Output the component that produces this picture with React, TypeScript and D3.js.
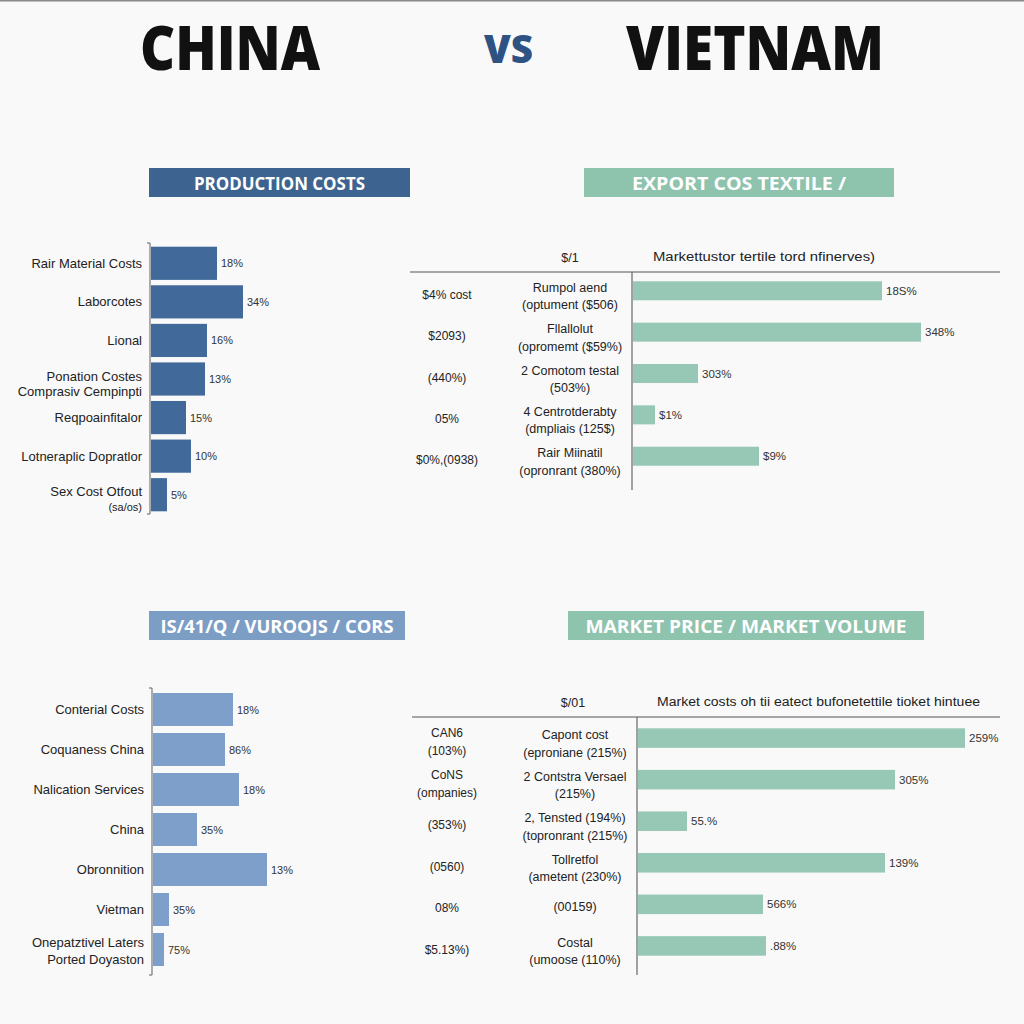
import React from "react";
import * as d3 from "d3";

// ---------- DATA ----------
const titleLeft = "CHINA";
const titleMid = "VS";
const titleRight = "VIETNAM";

const headerTL = "PRODUCTION COSTS";
const headerTR = "EXPORT COS TEXTILE / ";
const headerBL = "IS/41/Q / VUROOJS / CORS";
const headerBR = "MARKET PRICE / MARKET VOLUME";

// top-left panel
const tlCategories = [
  "Rair Material Costs",
  "Laborcotes",
  "Lional",
  "Ponation Costes\nComprasiv Cempinpti",
  "Reqpoainfitalor",
  "Lotneraplic Dopratlor",
  "Sex Cost Otfout\n(sa/os)",
];
const tlValues = [66, 92, 56, 54, 35, 40, 16];
const tlLabels = ["18%", "34%", "16%", "13%", "15%", "10%", "5%"];

// top-right panel
const trColHeadA = "$/1";
const trColHeadB = "Markettustor tertile tord nfinerves)";
const trLeft = ["$4% cost", "$2093)", "(440%)", "05%", "$0%,(0938)"];
const trMid = [
  "Rumpol aend\n(optument ($506)",
  "Fllallolut\n(opromemt ($59%)",
  "2 Comotom testal\n(503%)",
  "4 Centrotderabty\n(dmpliais (125$)",
  "Rair Miinatil\n(opronrant (380%)",
];
const trValues = [249, 288, 65, 22, 126];
const trLabels = ["18S%", "348%", "303%", "$1%", "$9%"];

// bottom-left panel
const blCategories = [
  "Conterial Costs",
  "Coquaness China",
  "Nalication Services",
  "China",
  "Obronnition",
  "Vietman",
  "Onepatztivel Laters\nPorted Doyaston",
];
const blValues = [80, 72, 86, 44, 114, 16, 11];
const blLabels = ["18%", "86%", "18%", "35%", "13%", "35%", "75%"];

// bottom-right panel
const brColHeadA = "$/01";
const brColHeadB = "Market costs oh tii eatect bufonetettile tioket hintuee";
const brLeft = ["CAN6\n(103%)", "CoNS\n(ompanies)", "(353%)", "(0560)", "08%", "$5.13%)"];
const brMid = [
  "Capont cost\n(eproniane (215%)",
  "2 Contstra Versael\n(215%)",
  "2, Tensted (194%)\n(topronrant (215%)",
  "Tollretfol\n(ametent (230%)",
  "(00159)",
  "Costal\n(umoose (110%)",
];
const brValues = [327, 257, 49, 247, 125, 128];
const brLabels = ["259%", "305%", "55.%", "139%", "566%", ".88%"];

// ---------- STYLE ----------
const FONT = "'Liberation Sans', Arial, sans-serif";
const HEAD_FONT = "'Open Sans', 'DejaVu Sans', sans-serif";
const DARK_BLUE = "#41699a";
const DARK_BLUE_H = "#3d6491";
const LIGHT_BLUE = "#7d9fc9";
const LIGHT_BLUE_H = "#7c9dc4";
const TEAL = "#96c8b5";
const TEAL_H = "#8ec3ae";
const TEXT = "#222";

function Lines({ text, x, cy, anchor, size, off1, off2, single = 0, color = TEXT, smallParen = false }: any) {
  const parts = String(text).split("\n");
  if (parts.length === 1) {
    return (
      <text x={x} y={cy + single} textAnchor={anchor} dominantBaseline="central" fontSize={size} fill={color} fontFamily={FONT}>
        {parts[0]}
      </text>
    );
  }
  const s2 = smallParen && parts[1].startsWith("(") ? size - 2 : size;
  return (
    <g>
      <text x={x} y={cy + off1} textAnchor={anchor} dominantBaseline="central" fontSize={size} fill={color} fontFamily={FONT}>
        {parts[0]}
      </text>
      <text x={x} y={cy + off2} textAnchor={anchor} dominantBaseline="central" fontSize={s2} fill={color} fontFamily={FONT}>
        {parts[1]}
      </text>
    </g>
  );
}

function Header({ x, y, w, h, fill, text, tl }: any) {
  return (
    <g>
      <rect x={x} y={y} width={w} height={h} fill={fill} />
      <text
        x={x + w / 2}
        y={y + h / 2 + 1}
        textAnchor="middle"
        dominantBaseline="central"
        fill="#fff"
        fontWeight={700}
        fontSize={17}
        fontFamily={HEAD_FONT}
        textLength={tl}
        lengthAdjust="spacingAndGlyphs"
      >
        {text}
      </text>
    </g>
  );
}

function LeftPanel({ cats, values, labels, color, axisX, yRange, axisY, pInner, pOuter, labelX, off1, off2 }: any) {
  const y = d3.scaleBand<number>().domain(d3.range(cats.length)).range(yRange).paddingInner(pInner).paddingOuter(pOuter);
  const x = d3.scaleLinear().domain([0, 100]).range([axisX + 1, axisX + 101]);
  return (
    <g>
      {values.map((v: number, i: number) => (
        <rect key={i} x={x(0)} y={y(i)} width={x(v) - x(0)} height={y.bandwidth()} fill={color} />
      ))}
      <line x1={axisX} x2={axisX} y1={axisY[0]} y2={axisY[1]} stroke="#777" strokeWidth={1.2} />
      <line x1={axisX - 3} x2={axisX} y1={axisY[0]} y2={axisY[0]} stroke="#777" strokeWidth={1.2} />
      <line x1={axisX - 3} x2={axisX} y1={axisY[1]} y2={axisY[1]} stroke="#777" strokeWidth={1.2} />
      {cats.map((c: string, i: number) => (
        <Lines key={i} text={c} x={labelX} cy={(y(i) as number) + y.bandwidth() / 2} anchor="end" size={13} off1={off1} off2={off2} smallParen />
      ))}
      {labels.map((l: string, i: number) => (
        <text key={i} x={x(values[i]) + 4} y={(y(i) as number) + y.bandwidth() / 2} dominantBaseline="central" fontSize={11} fill="#333" fontFamily={FONT}>
          {l}
        </text>
      ))}
    </g>
  );
}

function RightPanel({ left, mid, values, labels, axisX, lineY, lineX, axisBottom, yRange, pInner, pOuter, headA, headB, headAx, headBx, headBw, leftX, midX }: any) {
  const y = d3.scaleBand<number>().domain(d3.range(values.length)).range(yRange).paddingInner(pInner).paddingOuter(pOuter);
  const x = d3.scaleLinear().domain([0, 100]).range([axisX + 1, axisX + 101]);
  return (
    <g>
      <text x={headAx} y={lineY - 14} textAnchor="middle" dominantBaseline="central" fontSize={12.5} fill={TEXT} fontFamily={FONT}>
        {headA}
      </text>
      <text x={headBx} y={lineY - 15} dominantBaseline="central" fontSize={12.5} fill={TEXT} fontFamily={FONT} textLength={headBw} lengthAdjust="spacingAndGlyphs">
        {headB}
      </text>
      <line x1={lineX[0]} x2={lineX[1]} y1={lineY} y2={lineY} stroke="#555" strokeWidth={1.2} />
      <line x1={axisX} x2={axisX} y1={lineY} y2={axisBottom} stroke="#666" strokeWidth={1.2} />
      {values.map((v: number, i: number) => (
        <rect key={i} x={x(0)} y={y(i)} width={x(v) - x(0)} height={y.bandwidth()} fill={TEAL} />
      ))}
      {labels.map((l: string, i: number) => (
        <text key={i} x={x(values[i]) + 4} y={(y(i) as number) + y.bandwidth() / 2} dominantBaseline="central" fontSize={11.5} fill="#333" fontFamily={FONT}>
          {l}
        </text>
      ))}
      {left.map((t: string, i: number) => (
        <Lines key={i} text={t} x={leftX} cy={(y(i) as number) + y.bandwidth() / 2} anchor="middle" size={12} off1={-5} off2={13} single={4} />
      ))}
      {mid.map((t: string, i: number) => (
        <Lines key={i} text={t} x={midX} cy={(y(i) as number) + y.bandwidth() / 2} anchor="middle" size={12.5} off1={-3} off2={14.5} single={3} />
      ))}
    </g>
  );
}

export default function App() {
  return (
    <svg width={1024} height={1024} style={{ position: "absolute", left: 0, top: 0, display: "block" }}>
      <rect x={0} y={0} width={1024} height={1024} fill="#f9f9f9" />
      <rect x={0} y={0} width={1024} height={1.5} fill="#8a8a8a" />

      {/* Titles */}
      <text x={140} y={70} fontSize={62} fontWeight={800} fontFamily={HEAD_FONT} fill="#111" textLength={180} lengthAdjust="spacingAndGlyphs">
        {titleLeft}
      </text>
      <text x={484} y={63} fontSize={38} fontWeight={800} fontFamily={HEAD_FONT} fill="#2e5282" textLength={49} lengthAdjust="spacingAndGlyphs">
        {titleMid}
      </text>
      <text x={626} y={70} fontSize={62} fontWeight={800} fontFamily={HEAD_FONT} fill="#111" textLength={258} lengthAdjust="spacingAndGlyphs">
        {titleRight}
      </text>

      {/* Headers */}
      <Header x={149} y={168} w={261} h={29} fill={DARK_BLUE_H} text={headerTL} tl={171} />
      <Header x={584} y={168} w={310} h={29} fill={TEAL_H} text={headerTR} tl={214} />
      <Header x={149} y={611} w={256} h={29} fill={LIGHT_BLUE_H} text={headerBL} tl={233} />
      <Header x={568} y={611} w={356} h={29} fill={TEAL_H} text={headerBR} tl={321} />

      <LeftPanel
        cats={tlCategories}
        values={tlValues}
        labels={tlLabels}
        color={DARK_BLUE}
        axisX={150}
        yRange={[244, 514]}
        axisY={[243, 514]}
        pInner={0.14}
        pOuter={0.07}
        labelX={142}
        off1={-3}
        off2={12}
      />

      <RightPanel
        left={trLeft}
        mid={trMid}
        values={trValues}
        labels={trLabels}
        axisX={632}
        lineY={272}
        lineX={[410, 1000]}
        axisBottom={490}
        yRange={[273, 474]}
        pInner={0.54}
        pOuter={0.2}
        headA={trColHeadA}
        headB={trColHeadB}
        headAx={570}
        headBx={653}
        headBw={222}
        leftX={447}
        midX={570}
      />

      <LeftPanel
        cats={blCategories}
        values={blValues}
        labels={blLabels}
        color={LIGHT_BLUE}
        axisX={152}
        yRange={[689, 970]}
        axisY={[688, 975]}
        pInner={0.175}
        pOuter={0.1}
        labelX={144}
        off1={-7}
        off2={10}
      />

      <RightPanel
        left={brLeft}
        mid={brMid}
        values={brValues}
        labels={brLabels}
        axisX={637}
        lineY={717}
        lineX={[412, 1000]}
        axisBottom={975}
        yRange={[720, 964]}
        pInner={0.53}
        pOuter={0.2}
        headA={brColHeadA}
        headB={brColHeadB}
        headAx={573}
        headBx={657}
        headBw={323}
        leftX={447}
        midX={575}
      />
    </svg>
  );
}
